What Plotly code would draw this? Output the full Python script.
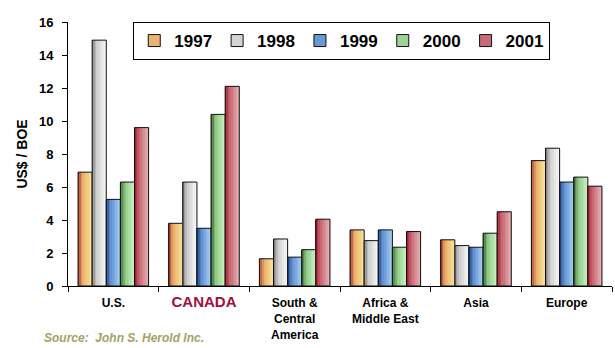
import plotly.graph_objects as go

# ---- data ----
categories = ["U.S.", "CANADA", "South & Central America", "Africa & Middle East", "Asia", "Europe"]
tick_labels = ["U.S.",
               "<span style='color:#a0103c;font-size:15px'>CANADA</span>",
               "South &<br>Central<br>America",
               "Africa &<br>Middle East",
               "Asia",
               "Europe"]
years = ["1997", "1998", "1999", "2000", "2001"]
v1997 = [6.9, 3.8, 1.65, 3.4, 2.8, 7.6]
v1998 = [14.9, 6.3, 2.85, 2.75, 2.45, 8.35]
v1999 = [5.25, 3.5, 1.75, 3.4, 2.35, 6.3]
v2000 = [6.3, 10.4, 2.2, 2.35, 3.2, 6.6]
v2001 = [9.6, 12.1, 4.05, 3.3, 4.5, 6.05]
series = [v1997, v1998, v1999, v2000, v2001]

# ---- styles ----
gradients = [
    [(165, 40, 40), (232, 175, 105), (250, 228, 155)],
    [(115, 115, 115), (205, 205, 205), (248, 248, 248)],
    [(30, 60, 110), (95, 145, 212), (165, 205, 242)],
    [(50, 85, 40), (140, 200, 130), (205, 242, 198)],
    [(150, 20, 40), (200, 100, 112), (228, 180, 180)],
]
legend_colors = ["#e8b472", "#d4d4d4", "#6a98d6", "#9cd294", "#c86a78"]

def interp(stops, t):
    pos = [0.0, 0.35, 1.0]
    for j in range(2):
        if t <= pos[j + 1]:
            f = (t - pos[j]) / (pos[j + 1] - pos[j])
            a, b = stops[j], stops[j + 1]
            c = [round(a[k] + (b[k] - a[k]) * f) for k in range(3)]
            return "rgb(%d,%d,%d)" % tuple(c)
    return "rgb(%d,%d,%d)" % stops[-1]

group_w = 0.778
bw = group_w / 5
start = -group_w / 2
N = 9
sw = bw / N

fig = go.Figure()
for s, vals in enumerate(series):
    off = start + s * bw
    for i in range(N):
        fig.add_trace(go.Bar(
            x=categories, y=vals, offset=off + i * sw, width=sw * 1.15,
            marker=dict(color=interp(gradients[s], (i + 0.5) / N), line=dict(width=0)),
            showlegend=False, hoverinfo="skip"))
    fig.add_trace(go.Bar(
        x=categories, y=vals, offset=off, width=bw,
        marker=dict(color="rgba(0,0,0,0)", line=dict(color="#111111", width=1)),
        showlegend=False, name=years[s]))

for s in range(5):
    fig.add_trace(go.Bar(
        x=[None], y=[None], name=years[s],
        marker=dict(color=legend_colors[s], line=dict(color="#111111", width=1))))

fig.add_annotation(
    text="Source:  John S. Herold Inc.", xref="paper", yref="paper",
    x=-0.048, y=-0.232, xanchor="left", yanchor="bottom", showarrow=False,
    font=dict(family="Arial", size=12, color="#a3a365", style="italic", weight="bold"))

fig.update_layout(
    width=615, height=348,
    margin=dict(l=68, r=3, t=22, b=62),
    barmode="overlay",
    paper_bgcolor="white", plot_bgcolor="white",
    font=dict(family="Arial", color="black"),
    legend=dict(orientation="h", x=0.12, y=1.0, xanchor="left", yanchor="top",
                bordercolor="black", borderwidth=1, bgcolor="white",
                font=dict(size=17, weight="bold"), traceorder="normal",
                itemwidth=30, tracegroupgap=0),
    xaxis=dict(type="category", categoryorder="array", categoryarray=categories,
               tickvals=categories, ticktext=tick_labels, tickson="boundaries",
               ticks="outside", ticklen=5, tickcolor="black",
               showline=True, linecolor="black", linewidth=1,
               tickfont=dict(size=12, weight="bold"), showgrid=False,
               range=[-0.5, 5.5], ticklabelstandoff=6),
    yaxis=dict(range=[0, 16], dtick=2, ticks="outside", ticklen=5, tickcolor="black",
               showline=True, linecolor="black", linewidth=1, showgrid=False,
               zeroline=False, tickfont=dict(size=13, weight="bold"),
               ticklabelstandoff=6,
               title=dict(text="US$ / BOE", font=dict(size=14, weight="bold"), standoff=8)),
)

fig.write_html("out.html")
